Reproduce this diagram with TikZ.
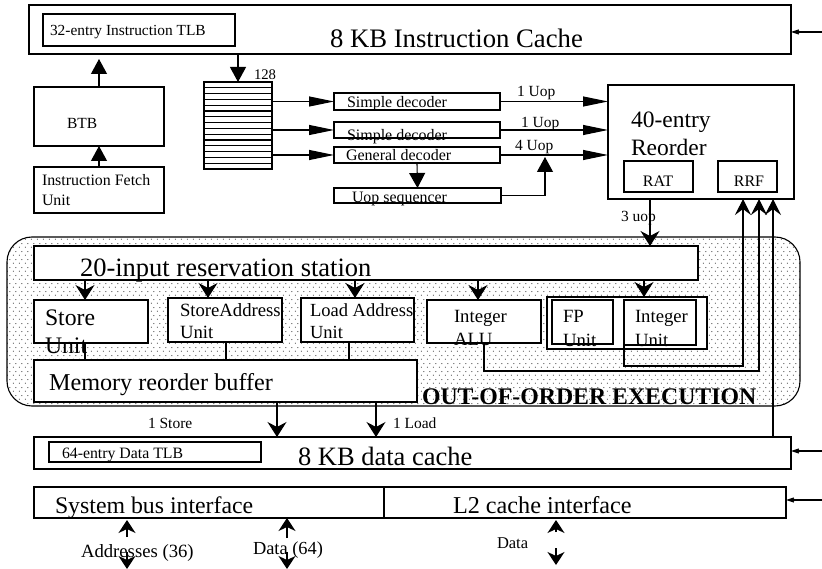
\documentclass[tikz,border=0pt]{standalone}
\usepackage{fontspec}
\setmainfont{Liberation Serif}
\usetikzlibrary{arrows.meta,patterns.meta,calc,fit}

% sparse staggered stipple for the execution core background
\tikzdeclarepattern{
  name=stipple,
  type=uncolored,
  bounding box={(0pt,0pt) and (6pt,8pt)},
  tile size={(6pt,8pt)},
  code={
    \fill (1.5pt,2pt) circle (0.6pt);
    \fill (4.5pt,6pt) circle (0.6pt);
  }
}

\newcommand\setfs[1]{\fontsize{#1}{#1}\selectfont}

\begin{document}
\begin{tikzpicture}[x=1pt,y=-1pt,line width=1.1pt,
  boxst/.style={draw,fill=white,inner sep=0pt,outer sep=0pt},
  lbl/.style={anchor=base west,inner sep=0pt,outer sep=0pt},
  vtri/.style={-{Triangle[length=15pt,width=16pt]}},
  htri/.style={-{Triangle[length=25pt,width=10pt]}},
  stl/.style={-{Stealth[length=15pt,width=19pt,inset=5pt]}},
  rrfarr/.style={-{Stealth[length=16pt,width=16pt,inset=6pt]}},
  botarr/.style={-{Stealth[length=13pt,width=17pt,inset=4pt]}},
  edgearr/.style={-{Stealth[length=15pt,width=10pt,inset=10pt]}},
]
\useasboundingbox (0,0) rectangle (822,569);

% ---------------- front end ----------------
\node[boxst,fit={(29,5)(791,54)}] (icache) {};
\node[boxst,fit={(43,14)(235,46)}] (itlb) {};
\node[lbl,font=\setfs{26.7}] (icachet) at (330,48) {8 KB Instruction Cache};
\node[lbl,font=\setfs{15.4}] (itlbt) at (50,36) {32-entry Instruction TLB};

\node[boxst,fit={(34,87)(164,146)}] (btb) {};
\node[lbl,font=\setfs{15.5}] (btbt) at (67,129) {BTB};
\node[boxst,fit={(34,167)(164,213)}] (ifu) {};
\node[lbl,font=\setfs{15.9}] (ifut1) at (42,186) {Instruction Fetch};
\node[lbl,font=\setfs{15.9}] (ifut2) at (42,206) {Unit};

\draw[vtri,shorten >=5pt] (btb.north) -- (btb.north |- icache.south);
\draw[vtri] (ifu.north) -- (btb.south);

% instruction byte queue
\node[boxst,fit={(204,82)(272,169)}] (buf) {};
\foreach \i in {1,...,14}
  \draw ($(buf.north west)!\i/15!(buf.south west)$) -- ($(buf.north east)!\i/15!(buf.south east)$);
\draw[vtri] (buf.north |- icache.south) -- (buf.north);
\node[lbl,font=\setfs{14.7}] (n128) at (254,80) {128};

% decoders
\node[boxst,fit={(334,93)(500,110)}] (sd1) {};
\node[boxst,fit={(334,122)(500,138)}] (sd2) {};
\node[boxst,fit={(334,147)(500,163)}] (gd) {};
\node[boxst,fit={(334,188)(501,203)}] (useq) {};
\node[lbl,font=\setfs{16}] (sd1t) at (347,108) {Simple decoder};
\node[lbl,font=\setfs{16}] (sd2t) at (347,141) {Simple decoder};
\node[lbl,font=\setfs{16}] (gdt) at (346,161) {General decoder};
\node[lbl,font=\setfs{15.9}] (useqt) at (352,203) {Uop sequencer};

\draw[htri] (buf.east |- sd1.west) -- (sd1.west);
\draw[htri] (buf.east |- sd2.west) -- (sd2.west);
\draw[htri] (buf.east |- gd.west) -- (gd.west);
\draw[vtri] (gd.south) -- (useq.north);

% reorder buffer
\node[boxst,fit={(608,85)(794,199)}] (rob) {};
\node[lbl,font=\setfs{23.5}] (robt1) at (631,128) {40-entry};
\node[lbl,font=\setfs{23.5}] (robt2) at (631,156) {Reorder};
\node[boxst,fit={(624,161)(693,192)}] (rat) {};
\node[boxst,fit={(718,161)(777,192)}] (rrf) {};
\node[font=\setfs{16},inner sep=0pt,anchor=base] (ratt) at (658,187) {RAT};
\node[font=\setfs{16},inner sep=0pt,anchor=base] (rrft) at (749,187) {RRF};

\draw[htri] (sd1.east) -- (sd1.east -| rob.west);
\draw[htri] (sd2.east) -- (sd2.east -| rob.west);
\draw[htri] (gd.east) -- (gd.east -| rob.west);
\coordinate (m4) at (545,155);
\draw[vtri,shorten >=2pt] (useq.east) -| (m4);
\node[lbl,font=\setfs{15.5}] (u1) at (517,97) {1 Uop};
\node[lbl,font=\setfs{15.5}] (u2) at (521,128) {1 Uop};
\node[lbl,font=\setfs{15.5}] (u3) at (515,151) {4 Uop};

% ---------------- out-of-order core ----------------
\node[draw,inner sep=0pt,outer sep=0pt,rounded corners=25pt,
      pattern=stipple,pattern color=black!85,fit={(7,237)(800,406)}] (ooo) {};
\node[boxst,fit={(34,246)(698,280)}] (rs) {};
\node[lbl,font=\setfs{26.5}] (rst) at (80,277) {20-input reservation station};

\coordinate (x3u) at (650,0);
\draw[stl] (rob.south -| x3u) -- (rs.north -| x3u);
\node[lbl,font=\setfs{15.5}] (u4) at (621,222) {3 uop};

\node[boxst,fit={(34,300)(148,343)}] (su) {};
\node[boxst,fit={(168,298)(282,342)}] (sau) {};
\node[boxst,fit={(301,298)(414,342)}] (lau) {};
\node[boxst,fit={(427,300)(541,343)}] (ialu) {};
\node[boxst,fit={(547,297)(707,349)}] (fpgrp) {};
\node[boxst,fit={(552,300)(613,344)}] (fpu) {};
\node[boxst,fit={(624,300)(696,345)}] (iu) {};
\node[boxst,fit={(34,360)(417,402)}] (mrb) {};

\node[lbl,font=\setfs{23.7}] (sut1) at (45,326) {Store};
\node[lbl,font=\setfs{23.7}] (sut2) at (45,353) {Unit};
\node[lbl,font=\setfs{18.7}] (saut1) at (180,317) {StoreAddress};
\node[lbl,font=\setfs{18.7}] (saut2) at (180,338) {Unit};
\node[lbl,font=\setfs{18.5}] (laut1) at (310,317) {Load Address};
\node[lbl,font=\setfs{18.5}] (laut2) at (310,338) {Unit};
\node[lbl,font=\setfs{18.7}] (ialut1) at (454,323) {Integer};
\node[lbl,font=\setfs{18.7}] (ialut2) at (454,345) {ALU};
\node[lbl,font=\setfs{18.7}] (fput1) at (563,323) {FP};
\node[lbl,font=\setfs{18.7}] (fput2) at (563,346) {Unit};
\node[lbl,font=\setfs{18.7}] (iut1) at (635,323) {Integer};
\node[lbl,font=\setfs{18.7}] (iut2) at (635,346) {Unit};
\node[lbl,font=\setfs{24.2}] (mrbt) at (49,390) {Memory reorder buffer};
\node[lbl,font=\bfseries\setfs{23.8}] (ooot) at (422,404) {OUT-OF-ORDER EXECUTION};

% dispatch from the reservation station
\coordinate (xa) at (85,0);
\coordinate (xb) at (208,0);
\coordinate (xc) at (355,0);
\coordinate (xd) at (478,0);
\coordinate (xe) at (644,0);
\draw[stl] (rs.south -| xa) -- (su.north -| xa);
\draw[stl] (rs.south -| xb) -- (sau.north -| xb);
\draw[stl] (rs.south -| xc) -- (lau.north -| xc);
\draw[stl] (rs.south -| xd) -- (ialu.north -| xd);
\draw[stl] (rs.south -| xe) -- (fpgrp.north -| xe);

% memory units into the memory reorder buffer
\coordinate (xf) at (226,0);
\coordinate (xg) at (349,0);
\draw (su.south -| xa) -- (mrb.north -| xa);
\draw (sau.south -| xf) -- (mrb.north -| xf);
\draw (lau.south -| xg) -- (mrb.north -| xg);

% results written back to the retirement register file
\coordinate (ka) at (743,366);
\coordinate (kb) at (759,371);
\coordinate (kc) at (773,0);
\draw[rrfarr] (iu.south west) |- (ka) -- (rob.south -| ka);
\draw[rrfarr] (ialu.south) |- (kb) -- (rob.south -| kb);

% ---------------- memory side ----------------
\node[boxst,fit={(34,437)(791,469)}] (dcache) {};
\node[boxst,fit={(49,442)(261,462)}] (dtlb) {};
\node[lbl,font=\setfs{15.8}] (dtlbt) at (62,458) {64-entry Data TLB};
\node[lbl,font=\setfs{26.5}] (dcachet) at (298,465) {8 KB data cache};
\draw[rrfarr] (dcache.north -| kc) -- (rob.south -| kc);

\coordinate (xs) at (277,0);
\coordinate (xl) at (376,0);
\draw[stl] (mrb.south -| xs) -- (dcache.north -| xs);
\draw[stl] (mrb.south -| xl) -- (dcache.north -| xl);
\node[lbl,font=\setfs{15.5}] (st1) at (148,428) {1 Store};
\node[lbl,font=\setfs{15.5}] (ld1) at (393,428) {1 Load};

\node[boxst,fit={(34,487)(786,518)}] (bus) {};
\coordinate (dv) at (384,0);
\draw (bus.north -| dv) -- (bus.south -| dv);
\node[lbl,font=\setfs{23.8}] (bust) at (55,513) {System bus interface};
\node[lbl,font=\setfs{24.2}] (l2t) at (453,513) {L2 cache interface};

% external request lines on the right
\coordinate (e1) at (822,32);
\coordinate (e2) at (822,451);
\coordinate (e3) at (822,500);
\draw[edgearr] (e1) -- (e1 -| icache.east);
\draw[edgearr] (e2) -- (e2 -| dcache.east);
\draw[edgearr] (e3) -- (e3 -| bus.east);

% external buses below
\coordinate (ba) at (127,537);
\coordinate (bb) at (287,538);
\coordinate (bc) at (556,532);
\draw[botarr,shorten >=2pt] (ba) -- (bus.south -| ba);
\draw[botarr] (bb) -- (bus.south -| bb);
\draw[botarr,shorten >=2pt] (bc) -- (bus.south -| bc);
\coordinate (da1) at (127,552);
\coordinate (da2) at (127,569);
\coordinate (db1) at (287,552);
\coordinate (db2) at (287,569);
\coordinate (dc1) at (556,548);
\coordinate (dc2) at (556,565);
\draw[botarr] (da1) -- (da2);
\draw[botarr] (db1) -- (db2);
\draw[botarr] (dc1) -- (dc2);
\node[lbl,font=\setfs{18.7}] (addrt) at (81,557) {Addresses (36)};
\node[lbl,font=\setfs{18.4}] (d64t) at (253,554) {Data (64)};
\node[lbl,font=\setfs{16.5}] (dl2t) at (497,548) {Data};
\end{tikzpicture}
\end{document}
